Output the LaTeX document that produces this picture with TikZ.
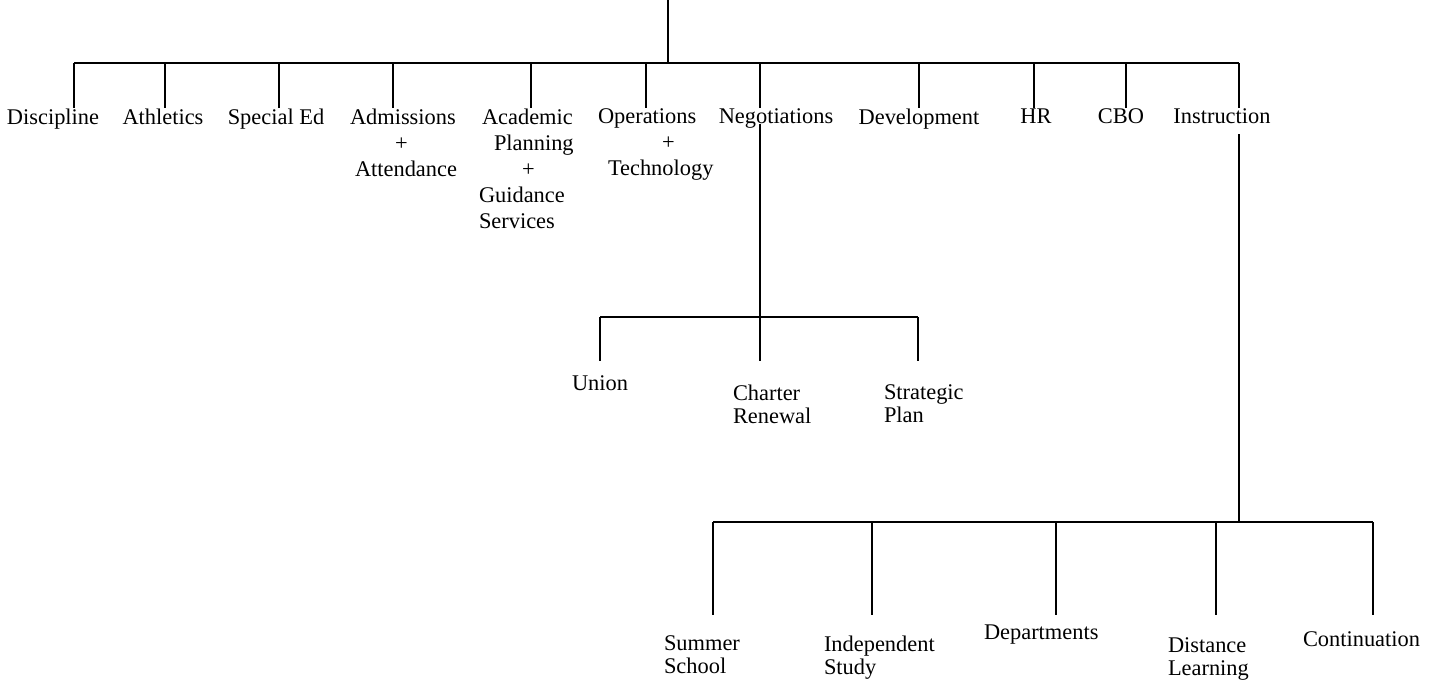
\documentclass[tikz,border=0pt]{standalone}
\usepackage{fontspec}
\setmainfont{Liberation Serif}
\begin{document}
\begin{tikzpicture}[x=0.5pt,y=-0.5pt,line width=1pt,
    unit/.style={anchor=north,inner sep=0pt,align=center,font=\fontsize{11.2}{13}\selectfont},
    unit left/.style={anchor=north west,inner sep=0pt,align=left,font=\fontsize{11.2}{13}\selectfont},
    subunit/.style={anchor=north west,inner sep=0pt,align=left,font=\fontsize{11.2}{11.5}\selectfont} ]
    \useasboundingbox (0,0) rectangle (1437,681);
    % top level
    \coordinate (root) at (668,0);
    \coordinate (hub) at (668,63);
    \coordinate (barL) at (74,63);
    \coordinate (barR) at (1239,63);
    \draw [-] (root) to (hub);
    \draw [-] (barL) to (barR);
    \node at (53,108) [unit] (disc) {Discipline};
    \node at (163,108) [unit] (ath) {Athletics};
    \node at (276,108) [unit] (sped) {Special Ed};
    \node at (349,108) [unit left] (adm) {Admissions\\\hspace*{22.5pt}+\\\hspace*{2.5pt}Attendance};
    \node at (478,108) [unit left] (acad) {\hspace*{1.5pt}Academic\\\hspace*{7.5pt}Planning\\\hspace*{21.5pt}+\\Guidance\\Services};
    \node at (597,108) [unit left] (ops) {Operations\\\hspace*{32pt}+\\\hspace*{5pt}Technology};
    \node at (776,108) [unit] (nego) {Negotiations};
    \node at (919,108) [unit] (dev) {Development};
    \node at (1036,108) [unit] (hr) {HR};
    \node at (1121,108) [unit] (cbo) {CBO};
    \node at (1222,108) [unit] (instr) {Instruction};
    \foreach \n/\x in {disc/74,ath/165,sped/279,adm/393,acad/531,ops/646,nego/760,dev/919,hr/1034,cbo/1126,instr/1239} {
      \coordinate (j\n) at (\x,63);
      \draw [-] (j\n) to (j\n |- \n.north);
    }
    % under negotiations
    \coordinate (hubN) at (760,317);
    \coordinate (nL) at (600,317);
    \coordinate (nR) at (918,317);
    \draw [-] (jnego |- nego.base) to (hubN);
    \draw [-] (nL) to (nR);
    \node at (600,375) [unit] (union) {Union};
    \node at (732,384) [subunit] (charter) {Charter\\Renewal};
    \node at (883,384) [subunit] (strat) {Strategic\\Plan};
    \coordinate (eunion) at (600,361);
    \coordinate (echarter) at (760,361);
    \coordinate (estrat) at (918,361);
    \draw [-] (nL) to (eunion);
    \draw [-] (hubN) to (echarter);
    \draw [-] (nR) to (estrat);
    % under instruction
    \coordinate (hubI) at (1239,522);
    \coordinate (iL) at (713,522);
    \coordinate (iR) at (1373,522);
    \draw [-, shorten <=4.5pt] (jinstr |- instr.south) to (hubI);
    \draw [-] (iL) to (iR);
    \node at (663,635) [subunit] (summer) {Summer\\School};
    \node at (823,635) [subunit] (indep) {Independent\\Study};
    \node at (983,624) [subunit] (dept) {Departments};
    \node at (1167,637) [subunit] (dist) {Distance\\Learning};
    \node at (1302,631) [subunit] (cont) {Continuation};
    \foreach \n/\x in {summer/713,indep/872,dept/1056,dist/1216,cont/1373} {
      \coordinate (k\n) at (\x,522);
      \coordinate (e\n) at (\x,615);
      \draw [-] (k\n) to (e\n);
    }
\end{tikzpicture}
\end{document}
